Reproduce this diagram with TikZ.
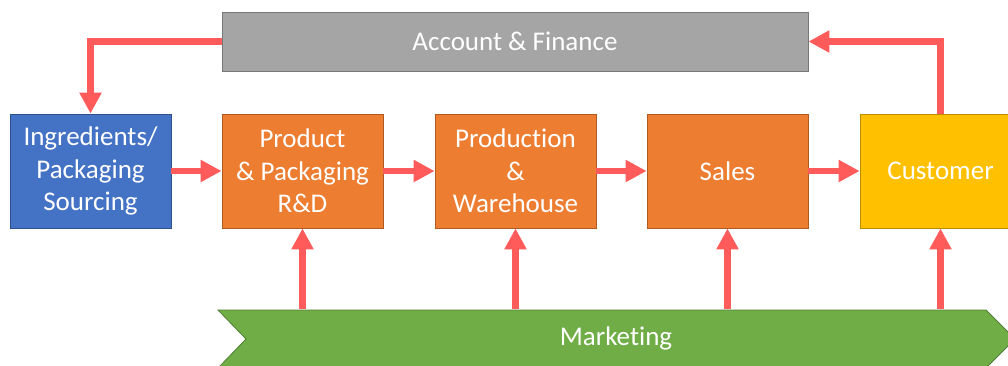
\documentclass[tikz,border=0pt]{standalone}
\usepackage{fontspec}
\setmainfont{Carlito}[Ligatures={NoCommon}]
\usetikzlibrary{arrows.meta}
\definecolor{boxblue}{HTML}{4472C4}
\definecolor{boxblueline}{HTML}{2F528F}
\definecolor{boxorange}{HTML}{ED7D31}
\definecolor{boxorangeline}{HTML}{AE5A21}
\definecolor{boxgold}{HTML}{FFC000}
\definecolor{boxgoldline}{HTML}{BC8C00}
\definecolor{boxgray}{HTML}{A5A5A5}
\definecolor{boxgrayline}{HTML}{787878}
\definecolor{boxgreen}{HTML}{70AD47}
\definecolor{boxgreenline}{HTML}{507E32}
\definecolor{flow}{HTML}{FF5B5B}
\tikzset{
  unit/.style={rectangle, minimum width=161pt, minimum height=114pt, line width=0.8pt,
    text=white, align=center, font=\fontsize{27}{32.5}\selectfont, inner sep=0pt},
  bluebox/.style={unit, fill=boxblue, draw=boxblueline},
  orangebox/.style={unit, fill=boxorange, draw=boxorangeline},
  goldbox/.style={unit, fill=boxgold, draw=boxgoldline},
  graybox/.style={unit, fill=boxgray, draw=boxgrayline, minimum width=586pt, minimum height=59pt},
  flowarrow/.style={draw=flow, line width=6.5pt,
    -{Triangle[length=21pt,width=21pt,fill=flow]}},
}
\begin{document}
\begin{tikzpicture}[x=1pt,y=-1pt]
\useasboundingbox (0,0) rectangle (1008,365);
\clip (0,0) rectangle (1008,365);

% top band
\node[graybox] (acc) at (515,41.5) {Account \& Finance};

% main chain
\node[bluebox] (src) at (90.5,171) {Ingredients/\\Packaging\\Sourcing};
\node[orangebox] (rnd) at (302.5,171) {Product\\\& Packaging\\R\&D};
\node[orangebox] (prd) at (515.5,171) {Production\\\&\\Warehouse};
\node[orangebox] (sal) at (727.5,171) {Sales};
\node[goldbox] (cus) at (940.5,171) {Customer};

% marketing chevron
\fill[boxgreen, draw=boxgreenline, line width=0.8pt]
  (218,310) -- (986,310) -- (1015,339) -- (986,368) -- (218,368) -- (246,339) -- cycle;
\node[inner sep=0pt, minimum width=740pt, minimum height=58pt, text=white,
  font=\fontsize{27}{30}\selectfont] (mkt) at (616,338) {Marketing};

% flows along the chain
\draw[flowarrow] (src.east) -- (rnd.west);
\draw[flowarrow] (rnd.east) -- (prd.west);
\draw[flowarrow] (prd.east) -- (sal.west);
\draw[flowarrow] (sal.east) -- (cus.west);

% money loop through finance
\draw[flowarrow] (acc.west) -| (src.north);
\draw[flowarrow] (cus.north) |- (acc.east);

% marketing support
\foreach \b in {rnd,prd,sal,cus}
  \draw[flowarrow] (mkt.north -| \b.south) -- (\b.south);
\end{tikzpicture}
\end{document}
